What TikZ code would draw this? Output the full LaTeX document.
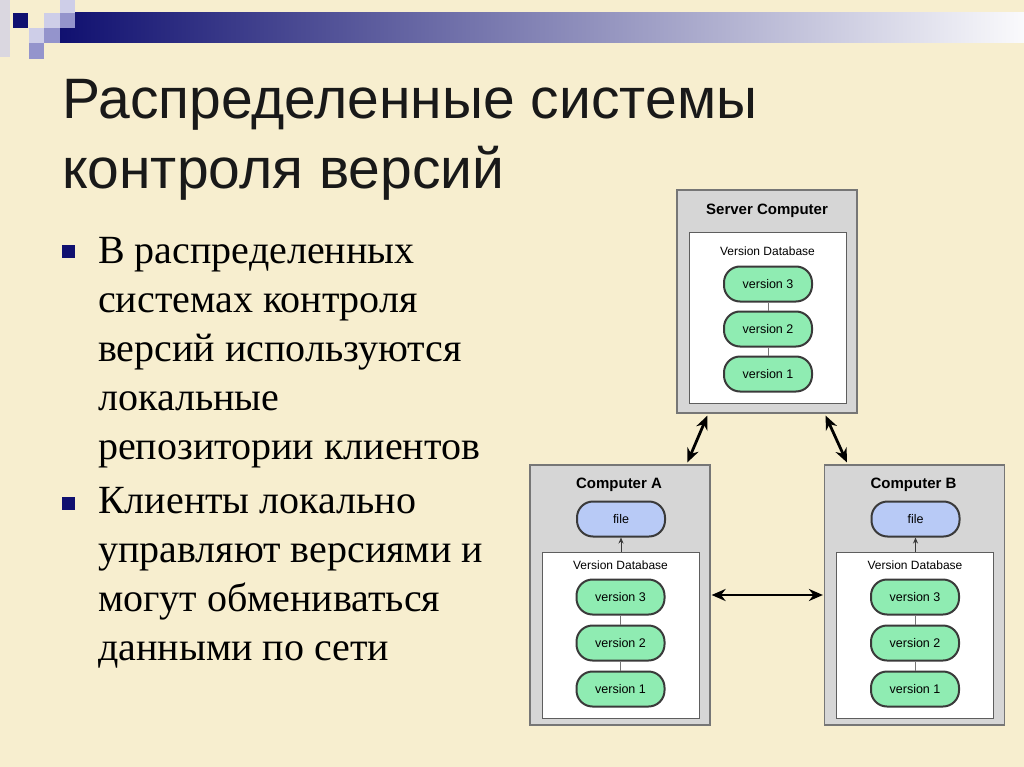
\documentclass[tikz,border=0pt]{standalone}
\usepackage{fontspec}
\setmainfont{Liberation Serif}
\newfontfamily\arialfont{Liberation Sans}
\usetikzlibrary{positioning,arrows.meta}

\definecolor{paper}{RGB}{247,238,207}
\definecolor{navy}{RGB}{16,16,112}
\definecolor{barmid}{RGB}{170,170,200}
\definecolor{barend}{RGB}{250,250,252}
\definecolor{lavpale}{RGB}{206,206,232}
\definecolor{lavmid}{RGB}{148,148,204}
\definecolor{boxgray}{RGB}{214,214,214}
\definecolor{boxline}{RGB}{118,118,118}
\definecolor{pillgreen}{RGB}{143,236,178}
\definecolor{pillblue}{RGB}{184,202,246}
\definecolor{pillline}{RGB}{58,58,58}

\tikzset{
  slidetitle/.style={anchor=north west, align=left, inner sep=0pt,
    font=\arialfont\fontsize{57}{70}\selectfont, text=black!90},
  slidetext/.style={anchor=north west, align=left, inner sep=0pt,
    font=\fontsize{40}{49}\selectfont},
  bulletsq/.style={fill=navy, minimum size=13pt, inner sep=0pt},
  pcbox/.style={draw=boxline, fill=boxgray, line width=1.2pt,
    minimum width=180pt, inner sep=0pt},
  dbbox/.style={draw=boxline!80!black, fill=white, line width=1pt,
    minimum width=157pt, inner sep=0pt},
  boxlabel/.style={font=\arialfont\bfseries\fontsize{15}{18}\selectfont, inner sep=0pt},
  dblabel/.style={font=\arialfont\fontsize{12}{14}\selectfont, inner sep=0pt},
  version/.style={draw=pillline, fill=pillgreen, line width=2pt,
    rounded corners=16pt, minimum width=88pt, minimum height=35pt,
    inner sep=0pt, font=\arialfont\fontsize{12.5}{14}\selectfont},
  filepill/.style={version, fill=pillblue},
  chain/.style={draw=pillline!70, line width=0.8pt},
  up/.style={-{Stealth[length=6pt,width=5pt]}, line width=0.8pt, pillline},
  link/.style={{Stealth[length=14pt,width=12pt]}-{Stealth[length=14pt,width=12pt]},
    line width=2.8pt, black}
}

\begin{document}
\begin{tikzpicture}[x=1pt,y=-1pt]
  \useasboundingbox (0,0) rectangle (1024,767);
  \fill[paper] (0,0) rectangle (1024,767);

  % corner squares and bar
  \shade[left color=navy, middle color=barmid, right color=barend] (60,13) rectangle (1024,43);
  \fill[lavpale, opacity=0.7] (0,0) rectangle (10,57);
  \fill[navy] (13,13) rectangle (28,28);
  \fill[lavpale] (29,28) rectangle (44,43);
  \fill[lavmid] (29,43) rectangle (44,59);
  \fill[lavpale] (44,13) rectangle (60,28);
  \fill[lavmid] (44,28) rectangle (60,43);
  \fill[lavpale] (60,0) rectangle (75,13);
  \fill[lavmid] (60,13) rectangle (75,28);

  % slide text
  \node[slidetitle] (title) at (62,79) {Распределенные системы\\контроля версий};
  \node[bulletsq] (b1) at (68.5,251) {};
  \node[slidetext] (t1) at (98,237) {В распределенных\\системах контроля\\версий используются\\локальные\\репозитории клиентов};
  \node[bulletsq] (b2) at (68.5,503) {};
  \node[slidetext] (t2) at (98,487) {Клиенты локально\\управляют версиями и\\могут обмениваться\\данными по сети};

  % server
  \node[pcbox, minimum height=223pt] (srv) at (767,301.5) {};
  \node[boxlabel] (srvname) at (767,211) {Server Computer};
  \node[dbbox, minimum height=170pt] (srvdb) at (767.5,318) {};
  \node[dblabel] (srvdbname) at (767.5,251) {Version Database};
  \node[version] (s3) at (768,284) {version 3};
  \node[version] (s2) at (768,329) {version 2};
  \node[version] (s1) at (768,374) {version 1};
  \draw[chain] (s3) -- (s2);
  \draw[chain] (s2) -- (s1);

  % computer A
  \node[pcbox, minimum height=260pt] (pcA) at (620,595) {};
  \node[boxlabel] (pcAname) at (619,485) {Computer A};
  \node[filepill] (fileA) at (621,519) {file};
  \node[dbbox, minimum height=166pt] (dbA) at (620.5,635) {};
  \node[dblabel] (dbAname) at (620.5,565) {Version Database};
  \node[version] (a3) at (620.5,597) {version 3};
  \node[version] (a2) at (620.5,643) {version 2};
  \node[version] (a1) at (620.5,689) {version 1};
  \draw[chain] (a3) -- (a2);
  \draw[chain] (a2) -- (a1);
  \draw[up] (fileA.south |- dbA.north) -- (fileA.south);

  % computer B
  \node[pcbox, minimum height=260pt] (pcB) at (914.5,595) {};
  \node[boxlabel] (pcBname) at (913.5,485) {Computer B};
  \node[filepill] (fileB) at (915.5,519) {file};
  \node[dbbox, minimum height=166pt] (dbB) at (915,635) {};
  \node[dblabel] (dbBname) at (915,565) {Version Database};
  \node[version] (b3) at (915,597) {version 3};
  \node[version] (b2v) at (915,643) {version 2};
  \node[version] (b1v) at (915,689) {version 1};
  \draw[chain] (b3) -- (b2v);
  \draw[chain] (b2v) -- (b1v);
  \draw[up] (fileB.south |- dbB.north) -- (fileB.south);

  % network links
  \draw[link] ([xshift=31pt,yshift=-2pt]srv.south west) -- ([xshift=158pt,yshift=2pt]pcA.north west);
  \draw[link] ([xshift=-32pt,yshift=-2pt]srv.south east) -- ([xshift=23pt,yshift=2pt]pcB.north west);
  \draw[link, shorten <=1pt, shorten >=1pt] (pcA.east) -- (pcB.west);
\end{tikzpicture}
\end{document}
